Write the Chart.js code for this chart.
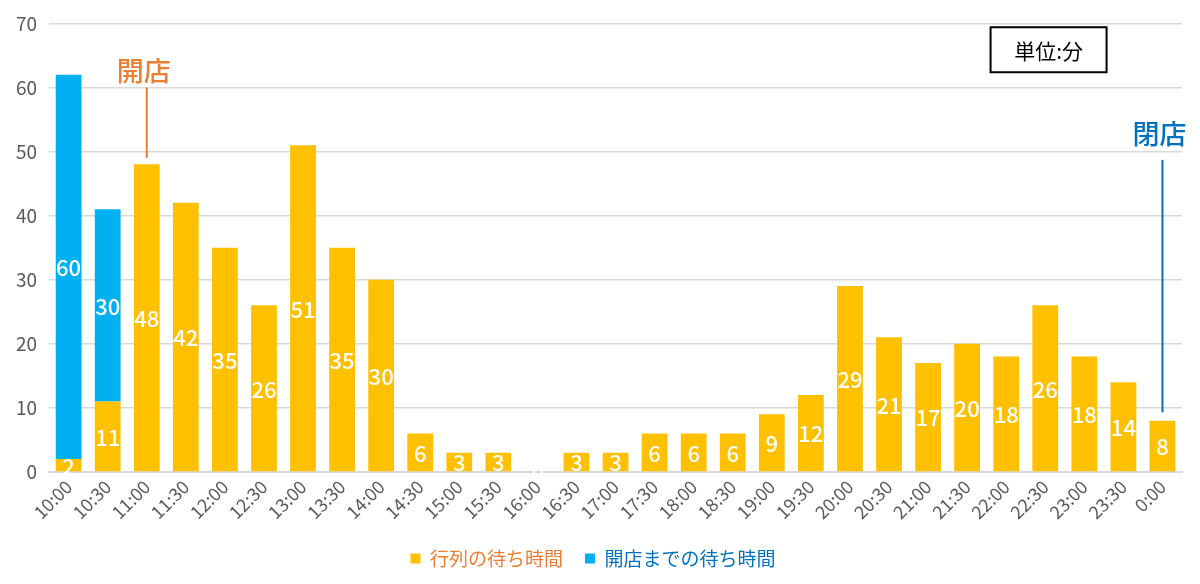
<!DOCTYPE html>
<html>
<head>
<meta charset="utf-8">
<script src="https://cdn.jsdelivr.net/npm/chart.js@4"></script>
<style>
  html, body { margin: 0; padding: 0; background: #fff; }
  #wrap { width: 1200px; height: 584px; }
</style>
</head>
<body>
<div id="wrap"><canvas id="waitChart"></canvas></div>
<script>
"use strict";

// data
const times = ['10:00','10:30','11:00','11:30','12:00','12:30','13:00','13:30','14:00','14:30',
  '15:00','15:30','16:00','16:30','17:00','17:30','18:00','18:30','19:00','19:30',
  '20:00','20:30','21:00','21:30','22:00','22:30','23:00','23:30','0:00'];

const queueWait = [2, 11, 48, 42, 35, 26, 51, 35, 30, 6,
  3, 3, 0, 3, 3, 6, 6, 6, 9, 12,
  29, 21, 17, 20, 18, 26, 18, 14, 8];

const openWait = [60, 30, null, null, null, null, null, null, null, null,
  null, null, null, null, null, null, null, null, null, null,
  null, null, null, null, null, null, null, null, null];

const yTicks = [0, 10, 20, 30, 40, 50, 60, 70];

const FONT = '"Noto Sans CJK JP", "Noto Sans", sans-serif';

// callouts: category index, value of text centre, line from/to (in y values)
const callouts = [
  { text: '開店', index: 2, textAt: 62.6, from: 60, to: 49, color: '#ED7D31' },
  { text: '閉店', index: 28, textAt: 52.8, from: 48.7, to: 9.3, color: '#0070C0' }
];

// labels in the middle of each bar segment + callouts + unit box
const extras = {
  id: 'extras',
  afterDatasetsDraw(chart) {
    const ctx = chart.ctx;
    const x = chart.scales.x;
    const y = chart.scales.y;

    ctx.save();
    ctx.fillStyle = '#ffffff';
    ctx.font = '500 22px ' + FONT;
    ctx.textAlign = 'center';
    ctx.textBaseline = 'middle';
    chart.data.datasets.forEach((ds, i) => {
      const meta = chart.getDatasetMeta(i);
      meta.data.forEach((bar, j) => {
        const v = ds.data[j];
        if (v === null || v === undefined) return;
        const p = bar.getProps(['x', 'y', 'base'], true);
        ctx.fillText(String(v), p.x, (p.y + p.base) / 2 + 1);
      });
    });

    callouts.forEach(c => {
      const cx = x.getPixelForValue(c.index);
      ctx.strokeStyle = c.color;
      ctx.lineWidth = 2;
      ctx.beginPath();
      ctx.moveTo(cx, y.getPixelForValue(c.from));
      ctx.lineTo(cx, y.getPixelForValue(c.to));
      ctx.stroke();
      ctx.fillStyle = c.color;
      ctx.font = '500 27px ' + FONT;
      ctx.fillText(c.text, cx - 3, y.getPixelForValue(c.textAt));
    });

    // unit box
    const bx = x.getPixelForValue(23.6);
    const bw = 116, bh = 45;
    const by = y.getPixelForValue(69.4);
    ctx.strokeStyle = '#000';
    ctx.lineWidth = 2;
    ctx.fillStyle = '#fff';
    ctx.fillRect(bx, by, bw, bh);
    ctx.strokeRect(bx, by, bw, bh);
    ctx.fillStyle = '#000';
    ctx.font = '21px ' + FONT;
    ctx.fillText('単位:分', bx + bw / 2, by + bh / 2 + 1);
    ctx.restore();
  }
};

const ctx = document.getElementById('waitChart');

new Chart(ctx, {
  type: 'bar',
  data: {
    labels: times,
    datasets: [
      {
        label: '行列の待ち時間',
        data: queueWait,
        backgroundColor: '#FFC000',
        borderWidth: 0,
        barPercentage: 0.66,
        categoryPercentage: 1
      },
      {
        label: '開店までの待ち時間',
        data: openWait,
        backgroundColor: '#00B0F0',
        borderWidth: 0,
        barPercentage: 0.66,
        categoryPercentage: 1
      }
    ]
  },
  options: {
    responsive: true,
    maintainAspectRatio: false,
    animation: false,
    layout: { padding: { left: 4, right: 18, top: 1, bottom: 6 } },
    plugins: {
      tooltip: { enabled: false },
      legend: {
        position: 'bottom',
        labels: {
          boxWidth: 10,
          boxHeight: 10,
          padding: 22,
          font: { family: FONT, size: 19 },
          generateLabels(chart) {
            const items = Chart.defaults.plugins.legend.labels.generateLabels(chart);
            const colors = ['#ED7D31', '#0070C0'];
            items.forEach((it, i) => {
              it.fontColor = colors[i];
              it.lineWidth = 0;
            });
            return items;
          }
        }
      }
    },
    scales: {
      x: {
        stacked: true,
        grid: { display: false, drawTicks: false },
        border: { display: true, color: '#d9d9d9', width: 2 },
        ticks: {
          color: '#595959',
          font: { family: FONT, size: 18 },
          minRotation: 45,
          maxRotation: 45,
          autoSkip: false,
          padding: 4
        }
      },
      y: {
        stacked: true,
        min: 0,
        max: 70,
        afterBuildTicks(axis) {
          axis.ticks = yTicks.map(v => ({ value: v }));
        },
        grid: { color: '#d9d9d9', lineWidth: 1.5, drawTicks: false },
        border: { display: false },
        ticks: {
          color: '#595959',
          font: { family: FONT, size: 19 },
          padding: 12
        }
      }
    }
  },
  plugins: [extras]
});
</script>
</body>
</html>
